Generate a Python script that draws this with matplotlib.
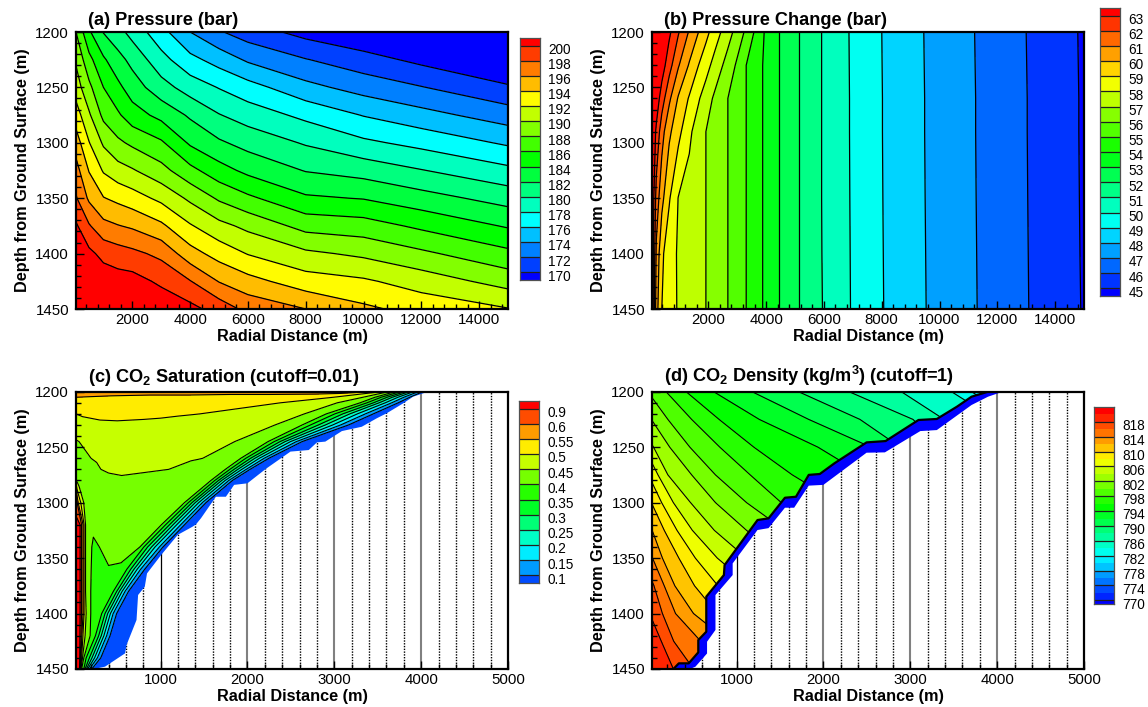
import numpy as np
import matplotlib
matplotlib.use('Agg')
import matplotlib.pyplot as plt
from matplotlib.colors import LinearSegmentedColormap, ListedColormap
from matplotlib.patches import Polygon
from matplotlib.ticker import MultipleLocator
from matplotlib.transforms import ScaledTranslation

plt.rcParams['font.family'] = ['Liberation Sans', 'DejaVu Sans']
plt.rcParams['mathtext.fontset'] = 'custom'
plt.rcParams['mathtext.bf'] = 'Liberation Sans:bold'
plt.rcParams['mathtext.rm'] = 'Liberation Sans'

# (a) pressure, bar: one row per depth, one column per radius
pressure_radius = [50, 500, 1000, 1500, 2000, 3000, 4000, 5000, 6000, 8000, 10000, 12000, 15000]
pressure_depth = [1200, 1225, 1250, 1275, 1300, 1325, 1350, 1375, 1400, 1425, 1450]
pressure = [
    [188.0, 184.3, 181.9, 180.7, 179.3, 176.7, 174.0, 172.2, 171.0, 169.3, 168.2, 166.8, 164.7],
    [189.7, 186.6, 184.3, 182.7, 181.4, 178.7, 176.6, 175.2, 173.7, 172.1, 170.8, 169.5, 167.5],
    [191.0, 188.5, 186.0, 184.5, 183.0, 180.8, 179.1, 177.9, 176.8, 174.6, 173.2, 172.1, 170.3],
    [193.0, 190.3, 187.5, 186.3, 184.9, 183.4, 181.7, 180.1, 179.1, 177.5, 175.9, 174.7, 173.0],
    [195.0, 192.1, 189.7, 188.4, 187.6, 186.3, 183.7, 182.3, 181.3, 179.8, 178.4, 177.4, 175.7],
    [196.8, 193.9, 191.8, 190.8, 190.2, 188.7, 186.6, 184.8, 183.5, 181.9, 181.2, 180.1, 178.5],
    [198.2, 195.65, 194.1, 193.5, 192.9, 191.5, 189.6, 187.7, 186.4, 184.3, 183.9, 182.8, 181.2],
    [200.3, 198.2, 196.6, 196.1, 195.7, 194.4, 192.2, 190.6, 189.5, 187.3, 186.9, 185.6, 183.8],
    [202.0, 200.5, 199.4, 198.9, 198.5, 197.5, 194.8, 193.2, 191.9, 190.4, 189.6, 188.4, 186.5],
    [203.5, 202.0, 201.2, 200.9, 200.8, 199.6, 198.1, 195.9, 194.7, 192.9, 192.3, 191.1, 189.2],
    [205.0, 203.0, 202.8, 202.6, 202.5, 201.5, 200.6, 199.2, 197.4, 196.0, 194.4, 193.3, 192.1],
]
pressure_lines = list(range(170, 202, 2))

# (b) pressure change, bar
change_radius = [50, 200, 390, 645, 960, 1340, 1660, 1915, 2230, 2675, 2930, 3310, 3880, 4450,
                 5135, 5920, 6885, 8025, 9485, 11250, 13035, 14820, 15000]
change_depth = [1200, 1230, 1260, 1290, 1350, 1400, 1450]
change = [
    [66, 65, 64.1, 63.2, 62.1, 60.9, 60, 59.3, 58.5, 57.4, 56.8, 55.8, 54.1, 53, 52, 51, 49.98, 48.98, 47.98, 46.98, 45.98, 44.98, 44.9],
    [65.2, 64.4, 63.5, 62.4, 61.1, 59.9, 59, 58.4, 57.6, 56.6, 56, 55, 54, 53, 52, 51, 49.99, 48.99, 47.99, 46.99, 45.99, 44.99, 44.9],
    [64.6, 63.6, 62.5, 61.2, 59.9, 58.9, 58.1, 57.5, 56.8, 56, 55.6, 55, 54, 53, 52, 51, 50, 49, 48, 47, 46, 45, 44.9],
    [64, 62.8, 61.4, 60.2, 59.3, 58.2, 57.5, 57, 56.6, 56, 55.6, 55, 54, 53, 52, 51, 50, 49, 48, 47, 46, 45, 44.9],
    [64, 61.6, 60.3, 59.1, 57.97, 57.6, 57.2, 57, 56.6, 56, 55.6, 55, 54, 53, 52, 51, 50.01, 49.01, 48.01, 47.01, 46.01, 45.01, 44.92],
    [64, 60.8, 59.2, 58.4, 57.9, 57.5, 57.2, 57, 56.6, 56, 55.6, 55, 54, 53, 52, 51.01, 50.02, 49.02, 48.02, 47.02, 46.02, 45.02, 44.93],
    [64, 60.4, 59, 58.5, 57.9, 57.5, 57.2, 57, 56.6, 56, 55.6, 55, 54, 53, 52, 51.03, 50.03, 49.03, 48.03, 47.03, 46.03, 45.03, 44.95],
]
change_lines = list(range(45, 64))

# (c) CO2 saturation: each depth has its own radii, then the outer limb by level
sat_depth = [1200, 1205, 1210, 1220, 1230, 1245, 1260, 1270, 1280, 1300, 1320, 1340, 1360, 1380, 1400, 1420, 1440, 1450]
sat_inner_radius = [
    [25, 500, 1000, 1500, 2000, 2500, 3000, 3200, 3400, 3540, 3624, 3700],
    [25, 400, 800, 1200, 1600, 2000, 2500, 2800, 2991, 3150, 3330, 3468],
    [25, 400, 800, 1200, 1600, 1900, 2100, 2250, 2380, 2700, 3034, 3297],
    [25, 100, 300, 500, 800, 1000, 1200, 1350, 1451, 2050, 2654, 2907],
    [25, 100, 300, 500, 800, 1000, 1200, 1500, 2000, 2150, 2316, 2629],
    [25, 60, 100, 200, 300, 600, 1000, 1300, 1600, 1750, 1852, 2236],
    [25, 100, 198, 300, 600, 900, 1100, 1250, 1380, 1440, 1485, 1923],
    [25, 60, 100, 200, 312, 500, 800, 1093, 1250, 1400, 1550, 1745],
    [25, 35, 45, 55, 70, 200, 350, 700, 1000, 1350, 1480, 1579],
    [25, 38, 50, 80, 114, 200, 400, 700, 1000, 1150, 1220, 1274],
    [25, 72, 89, 106, 118, 135, 205, 212, 245, 850, 950, 1008],
    [25, 72, 89, 106, 118, 135, 207, 235, 294, 400, 650, 760],
    [25, 72, 89, 106, 118, 135, 200, 250, 300, 400, 500, 560],
    [25, 72, 89, 106, 118, 135, 195, 250, 300, 350, 400, 430],
    [25, 72, 89, 106, 118, 142, 195, 225, 250, 275, 295, 310],
    [25, 70, 82, 92, 105, 130, 188, 200, 210, 225, 235, 242],
    [25, 68, 76, 82, 90, 100, 115, 120, 125, 130, 134, 138],
    [25, 65, 70, 74, 78, 82, 90, 94, 98, 102, 106, 110],
]
sat_inner_value = [
    [.58, .58, .58, .58, .58, .58, .58, .57, .55, .5, .45, .4],
    [.55, .54, .53, .53, .52, .52, .51, .505, .5, .475, .45, .4],
    [.53, .53, .53, .52, .52, .51, .51, .505, .5, .475, .45, .4],
    [.5, .505, .515, .52, .515, .51, .505, .502, .5, .475, .45, .4],
    [.475, .485, .488, .488, .485, .484, .48, .475, .465, .46, .45, .4],
    [.447, .45, .458, .47, .474, .474, .472, .467, .46, .455, .45, .4],
    [.43, .435, .45, .456, .46, .46, .458, .455, .453, .452, .45, .4],
    [.437, .435, .435, .44, .45, .455, .455, .45, .44, .43, .415, .4],
    [.46, .44, .435, .43, .43, .44, .446, .446, .445, .43, .415, .4],
    [.75, .6, .55, .5, .45, .425, .43, .43, .425, .415, .405, .4],
    [1.0, .9, .6, .55, .5, .45, .42, .425, .42, .41, .405, .4],
    [1.0, .9, .6, .55, .5, .45, .4, .38, .4, .415, .41, .4],
    [1.0, .9, .6, .55, .5, .45, .4, .39, .39, .397, .396, .37],
    [1.0, .9, .6, .55, .5, .45, .4, .385, .38, .38, .37, .36],
    [1.0, .9, .6, .55, .5, .45, .4, .385, .38, .375, .37, .36],
    [1.0, .9, .6, .55, .5, .45, .4, .385, .38, .375, .37, .36],
    [1.0, .9, .6, .55, .5, .45, .4, .39, .385, .38, .37, .36],
    [1.0, .9, .6, .55, .5, .45, .4, .39, .385, .38, .37, .36],
]
sat_outer_levels = [.35, .3, .25, .2, .15, .1]
sat_outer_radius = [
    [3758, 3812, 3860, 3911, 3966, 4020],
    [3540, 3608, 3668, 3733, 3801, 3869],
    [3376, 3451, 3516, 3587, 3661, 3736],
    [3005, 3097, 3178, 3265, 3357, 3449],
    [2725, 2816, 2896, 2981, 3072, 3163],
    [2307, 2374, 2432, 2495, 2562, 2629],
    [1981, 2036, 2085, 2137, 2192, 2247],
    [1797, 1845, 1889, 1935, 1985, 2030],
    [1624, 1666, 1703, 1743, 1785, 1827],
    [1319, 1361, 1398, 1438, 1480, 1522],
    [1056, 1101, 1142, 1184, 1230, 1275],
    [806, 850, 895, 935, 985, 1027],
    [611, 656, 693, 730, 770, 817],
    [455, 494, 525, 556, 590, 630],
    [321, 359, 390, 421, 453, 493],
    [249, 286, 316, 346, 378, 417],
    [142, 179, 209, 239, 271, 310],
    [115, 130, 145, 160, 180, 207],
]
sat_edge_radius = [4079, 3907, 3793, 3602, 3488, 3316, 3087, 2896, 2800, 2705, 2495, 2209, 1999, 1846, 1751,
                   1636, 1465, 1407, 1367, 1198, 1008, 843, 817, 740, 722, 645, 607, 590, 359, 230]
sat_edge_depth = [1200, 1204.5, 1210.5, 1219.5, 1224, 1231.6, 1235.5, 1245, 1245.7, 1252.6, 1254, 1269.7, 1282.6,
                  1284, 1294.7, 1294.7, 1314, 1319.6, 1321.7, 1329, 1347, 1363.8, 1375.8, 1383.3, 1405.8, 1420.9,
                  1428.4, 1435.9, 1447.9, 1450]
sat_fill = [.01, .1, .15, .2, .25, .3, .35, .4, .45, .5, .55, .6, .9, 1.1]
sat_lines = [.1, .15, .2, .25, .3, .35, .4, .45, .5, .55, .6, .9]
sat_labels = ['0.1', '0.15', '0.2', '0.25', '0.3', '0.35', '0.4', '0.45', '0.5', '0.55', '0.6', '0.9']

# (d) CO2 density, kg/m3: radius of each level at each depth (left of 25 m means off the plot)
dens_depth = [1200, 1225, 1250, 1275, 1300, 1325, 1350, 1375, 1400, 1425, 1450]
dens_levels = [818, 816, 814, 812, 810, 808, 806, 804, 802, 800, 798, 796, 794, 792, 790, 788, 786, 784, 782]
dens_radius = [
    [-1204, -993, -782, -614, -466, -340, -214, -87, -3, 132, 271],
    [-1077, -867, -656, -487, -340, -214, -87, 48, 145, 275, 503],
    [-951, -740, -530, -361, -214, -87, 31, 166, 296, 587, 903],
    [-825, -614, -403, -235, -87, 27, 145, 288, 503, 903, 1240],
    [-698, -488, -277, -108, 18, 166, 334, 515, 777, 1114, 1619],
    [-572, -361, -172, -16, 136, 313, 524, 785, 1114, 1619, 2083],
    [-445, -235, -66, 94, 271, 490, 777, 1156, 1619, 2083, 2504],
    [-319, -150, 43, 208, 469, 743, 1114, 1577, 2083, 2504, 2842],
    [-150, 18, 229, 482, 756, 1114, 1514, 1999, 2462, 2799, 3136],
    [-24, 208, 461, 756, 1114, 1556, 2041, 2462, 2799, 3136, 3474],
    [187, 482, 806, 1156, 1514, 1999, 2462, 2799, 3136, 3474, 3811],
    [418, 798, 1198, 1641, 2167, 2589, 2926, 3263, 3600, 3937, 4274],
    [735, 1261, 1936, 2462, 2842, 3179, 3516, 3853, 4190, 4527, 4864],
    [1177, 1830, 2547, 2926, 3284, 3621, 3958, 4295, 4632, 4969, 5307],
    [1712, 2420, 2884, 3242, 3579, 3916, 4253, 4590, 4928, 5265, 5602],
    [2294, 3031, 3347, 3684, 4021, 4359, 4696, 5033, 5370, 5707, 6044],
    [2896, 3389, 3726, 4064, 4401, 4738, 5075, 5412, 5749, 6086, 6423],
    [3474, 3979, 4316, 4654, 4991, 5328, 5660, 6000, 6340, 6680, 7010],
    [3705, 4200, 4600, 5000, 5400, 5800, 6200, 6600, 7000, 7400, 7800],
]
dens_inner_radius = [3895, 3705, 3537, 3305, 3094, 2715, 2496, 2125, 1957, 1830, 1683, 1556, 1367, 1240, 861, 853,
                     650, 650, 558, 558, 448, 334, 271]
dens_inner_depth = [1200, 1204.5, 1213.5, 1224.6, 1225.5, 1244.5, 1245.7, 1264.6, 1274.2, 1275, 1294.7, 1295.6,
                    1314.2, 1315.7, 1356.3, 1365.3, 1384.8, 1416.4, 1423.9, 1435, 1444.9, 1444.9, 1450]
dens_outer_radius = [4064, 3895, 3705, 3305, 3115, 2707, 2496, 1999, 1830, 1662, 1556, 1367, 1240, 954, 954, 756,
                     756, 659, 659, 524, 461]
dens_outer_depth = [1200, 1204.5, 1212, 1234.6, 1235.5, 1254.7, 1255, 1284, 1284.7, 1304.6, 1304.6, 1323, 1324.7,
                    1354.8, 1365.3, 1383.3, 1414.8, 1425.4, 1436, 1448, 1450]
dens_fill = list(range(770, 822, 2))
dens_labels = list(range(770, 822, 4))

WIDTH, HEIGHT = 1148, 707
rainbow = LinearSegmentedColormap.from_list('small_rainbow', ['#0000ff', '#00ffff', '#00ff00', '#ffff00', '#ff0000'])

fig = plt.figure(figsize=(WIDTH / 100, HEIGHT / 100), dpi=100)


def box(x0, x1, y0, y1):
    return [x0 / WIDTH, 1 - y1 / HEIGHT, (x1 - x0) / WIDTH, (y1 - y0) / HEIGHT]


def setup_axes(rect, title, xmin, xmax, xmajor, xminor):
    ax = fig.add_axes(rect)
    ax.set_xlim(xmin, xmax)
    ax.set_ylim(1450, 1200)
    ax.xaxis.set_major_locator(MultipleLocator(xmajor))
    ax.xaxis.set_minor_locator(MultipleLocator(xminor))
    ax.yaxis.set_major_locator(MultipleLocator(50))
    ax.yaxis.set_minor_locator(MultipleLocator(10))
    ax.tick_params(which='major', direction='in', length=6, width=1, labelsize=10.8, pad=3)
    ax.tick_params(which='minor', direction='in', length=3.5, width=1)
    ax.tick_params(axis='y', which='major', pad=5)
    for s in ax.spines.values():
        s.set_linewidth(1.6)
    ax.set_xlabel('Radial Distance (m)', fontsize=11.7, fontweight='bold', labelpad=1)
    ax.set_ylabel('Depth from Ground Surface (m)', fontsize=11.7, fontweight='bold', labelpad=4)
    ax.text(0.027, 1.012, title, transform=ax.transAxes, fontsize=13.1, fontweight='bold', va='bottom')
    return ax


def legend(rect, n_lines, labels, colors, tick_idx=None, top=0.5):
    # colour key: half boxes at both ends, a line and label at each labelled level
    cax = fig.add_axes(rect)
    edges = np.concatenate([[-0.5], np.arange(n_lines), [n_lines - 1 + top]])
    cax.pcolormesh([0, 1], edges, np.arange(len(colors))[:, None], cmap=ListedColormap(colors),
                   vmin=-0.5, vmax=len(colors) - 0.5)
    cax.set_xticks([])
    cax.yaxis.tick_right()
    ticks = range(n_lines) if tick_idx is None else tick_idx
    cax.set_yticks(list(ticks))
    cax.set_yticklabels(labels, fontsize=9.8)
    cax.tick_params(axis='y', direction='in', length=rect[2] * WIDTH * 0.72, width=0.9, pad=6, color='#202020')
    offset = ScaledTranslation(0, -2 / 72, fig.dpi_scale_trans)
    for lab in cax.get_yticklabels():
        lab.set_transform(lab.get_transform() + offset)
    for s in cax.spines.values():
        s.set_linewidth(0.9)
        s.set_color('#505050')


def grid_lines(ax):
    for r in range(200, 5000, 200):
        if r == 1000:
            ax.axvline(r, color='k', lw=0.9, zorder=0.5)
        elif r % 1000 == 0:
            ax.axvline(r, color='#808080', lw=1.5, zorder=0.5)
        else:
            ax.axvline(r, color='k', lw=1.0, ls=(0, (1, 1)), zorder=0.5)


def band_colors(n, first=0, last=None):
    last = n - 1 if last is None else last
    return [rainbow(i / last) for i in range(first, first + n)]


# panel a
ax = setup_axes(box(76, 508, 32, 309), '(a) Pressure (bar)', 50, 15000, 2000, 400)
fill = [150] + pressure_lines + [230]
ax.contourf(pressure_radius, pressure_depth, pressure, levels=fill, colors=band_colors(17))
ax.contour(pressure_radius, pressure_depth, pressure, levels=pressure_lines, colors='k', linewidths=0.9)
legend(box(520, 540, 38, 280), 16, pressure_lines, band_colors(17))

# panel b
ax = setup_axes(box(652, 1084, 32, 309), '(b) Pressure Change (bar)', 50, 15000, 2000, 400)
fill = [40] + change_lines + [80]
ax.contourf(change_radius, change_depth, change, levels=fill, colors=band_colors(20))
ax.contour(change_radius, change_depth, change, levels=change_lines, colors='k', linewidths=0.9)
legend(box(1100, 1120, 8, 296), 19, change_lines, band_colors(20))

# panel c
ax = setup_axes(box(76, 508, 391.7, 669), '(c) CO$_{\\mathbf{2}}$ Saturation (cutoff=0.01)', 25, 5000, 1000, 200)
grid_lines(ax)
n_rows = len(sat_depth)
sat_r = np.hstack([sat_inner_radius, sat_outer_radius, np.full((n_rows, 1), 7000)])
sat_v = np.hstack([sat_inner_value, np.tile(sat_outer_levels, (n_rows, 1)), np.full((n_rows, 1), .05)])
sat_d = np.tile(np.array(sat_depth)[:, None], (1, sat_r.shape[1]))
colors_c = band_colors(13, first=1, last=13)
plume = Polygon(np.column_stack([[25] + sat_edge_radius + [25], [1200] + sat_edge_depth + [1450]]),
                fc='none', ec='none', transform=ax.transData)
ax.add_patch(plume)
cf = ax.contourf(sat_r, sat_d, sat_v, levels=sat_fill, colors=colors_c, zorder=1)
cl = ax.contour(sat_r, sat_d, sat_v, levels=sat_lines, colors='k', linewidths=0.8, zorder=2)
cf.set_clip_path(plume)
cl.set_clip_path(plume)
legend(box(519, 539, 401, 583), 12, sat_labels, colors_c)

# panel d
ax = setup_axes(box(652, 1084, 391.7, 669), '(d) CO$_{\\mathbf{2}}$ Density (kg/m$^{\\mathbf{3}}$) (cutoff=1)',
                25, 5000, 1000, 200)
grid_lines(ax)
n_rows = len(dens_depth)
dens_r = np.hstack([np.full((n_rows, 1), -3000), np.array(dens_radius).T, np.full((n_rows, 1), 9000)])
dens_v = np.tile([830] + dens_levels + [781], (n_rows, 1))
dens_d = np.tile(np.array(dens_depth)[:, None], (1, dens_r.shape[1]))
colors_d = band_colors(27)
ax.fill(dens_inner_radius + dens_outer_radius[::-1], dens_inner_depth + dens_outer_depth[::-1],
        color='#0000ff', lw=0, zorder=1)
plume = Polygon(np.column_stack([[25] + dens_inner_radius + [25], [1200] + dens_inner_depth + [1450]]),
                fc='none', ec='none', transform=ax.transData)
ax.add_patch(plume)
cf = ax.contourf(dens_r, dens_d, dens_v, levels=[700] + dens_fill + [900], colors=colors_d, zorder=1)
cl = ax.contour(dens_r, dens_d, dens_v, levels=sorted(dens_levels), colors='k', linewidths=0.8, zorder=2)
cf.set_clip_path(plume)
cl.set_clip_path(plume)
ax.plot(dens_inner_radius, dens_inner_depth, color='k', lw=1.6, zorder=3)
legend(box(1094, 1114, 407, 604), 26, dens_labels, colors_d, tick_idx=range(0, 25, 2), top=1.0)

fig.savefig('out.png', dpi=100)
